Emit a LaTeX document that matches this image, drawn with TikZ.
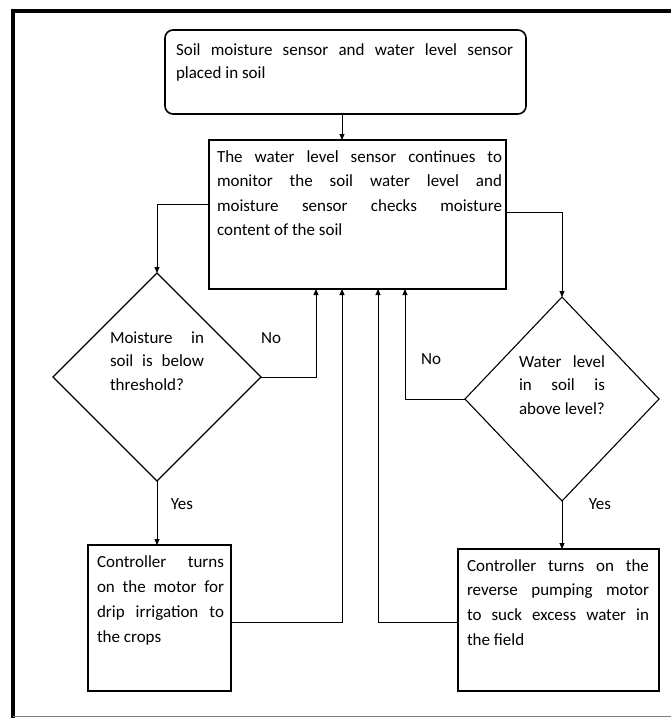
\documentclass[tikz,border=0pt]{standalone}
\usepackage{fontspec}
\setmainfont{Carlito}
\usetikzlibrary{shapes.geometric,arrows.meta}

% one justified line of a text block
\newcommand{\jline}[2]{\makebox[#1][s]{\strut #2}}

\begin{document}
\begin{tikzpicture}[x=1pt,y=-1pt,
  every node/.style={inner sep=0pt, outer sep=0pt},
  box/.style={draw, rectangle, line width=1.1pt},
  rbox/.style={draw, rectangle, rounded corners=8pt, line width=1.6pt},
  decision/.style={draw, diamond, line width=1.1pt},
  txt/.style={anchor=north west, align=left, font=\fontsize{17}{24.5}\selectfont},
  lbl/.style={font=\fontsize{17}{20}\selectfont},
  arr/.style={line width=0.9pt, -{Triangle[length=6pt,width=5pt]}},
  heavy/.style={line width=2.2pt},
]
\useasboundingbox (0,0) rectangle (671,718);

% page frame
\draw[line width=4pt, line join=miter] (13,718) -- (13,11) -- (671,11);
\draw[gray, line width=1pt] (13,716.5) -- (671,716.5);

% boxes and decisions
\node[rbox, minimum width=361pt, minimum height=84pt] (top) at (345.5,72) {};
\node[box, minimum width=297pt, minimum height=149pt] (main) at (357.5,214.5) {};
\node[decision, minimum width=208pt, minimum height=208pt] (d1) at (157,377) {};
\node[decision, minimum width=194pt, minimum height=204pt] (d2) at (562,399) {};
\node[box, minimum width=143pt, minimum height=146pt] (b1) at (159.5,618) {};
\node[box, minimum width=201pt, minimum height=142pt] (b2) at (558.5,620) {};

% heavier lower edges
\draw[heavy] (main.south west) -- (main.south east);
\draw[heavy] (b1.south west) -- (b1.south east);
\draw[heavy] (b2.south west) -- (b2.south east);

% texts
\node[txt, font=\fontsize{17}{23.5}\selectfont] (t0) at (176,39)
  {\jline{337pt}{Soil moisture sensor and water level sensor}\\ \strut placed in soil};
\node[txt] (t1) at (217,145)
  {\jline{285pt}{The water level sensor continues to}\\
   \jline{285pt}{monitor the soil water level and}\\
   \jline{285pt}{moisture sensor checks moisture}\\
   \strut content of the soil};
\node[txt, font=\fontsize{17}{23.5}\selectfont] (t2) at (110,327)
  {\jline{94pt}{Moisture in}\\ \jline{94pt}{soil is below}\\ \strut threshold?};
\node[txt, font=\fontsize{17}{23.5}\selectfont] (t3) at (519,351)
  {\jline{86pt}{Water level}\\ \jline{86pt}{in soil is}\\ \strut above level?};
\node[txt, font=\fontsize{17}{25}\selectfont] (t4) at (97,550)
  {\jline{127pt}{Controller turns}\\ \jline{127pt}{on the motor for}\\
   \jline{127pt}{drip irrigation to}\\ \strut the crops};
\node[txt, font=\fontsize{17}{24.7}\selectfont] (t5) at (467,554)
  {\jline{182pt}{Controller turns on the}\\ \jline{182pt}{reverse pumping motor}\\
   \jline{182pt}{to suck excess water in}\\ \strut the field};

% branch labels
\node[lbl] (n1) at (271,338) {No};
\node[lbl] (n2) at (431,359) {No};
\node[lbl] (y1) at (182,504) {Yes};
\node[lbl] (y2) at (600,504) {Yes};

% connector guide positions
\coordinate (xa) at (342,0);
\coordinate (xb) at (316,0);
\coordinate (xd) at (378,0);
\coordinate (xe) at (405,0);
\coordinate (ya) at (0,204);
\coordinate (yb) at (0,212);
\coordinate (yc) at (0,622);

% connectors
\draw[arr] (top.south -| xa) -- (main.north -| xa);
\draw[arr] (main.west |- ya) -| (d1.north);
\draw[arr] (main.east |- yb) -| (d2.north);
\draw[arr] (d1.east) -| (main.south -| xb);
\draw[arr] (d2.west) -| (main.south -| xe);
\draw[arr] (b1.east |- yc) -| (main.south -| xa);
\draw[arr] (b2.west |- yc) -| (main.south -| xd);
\draw[arr] (d1.south) -- (b1.north -| d1.south);
\draw[arr] (d2.south) -- (b2.north -| d2.south);
\end{tikzpicture}
\end{document}
